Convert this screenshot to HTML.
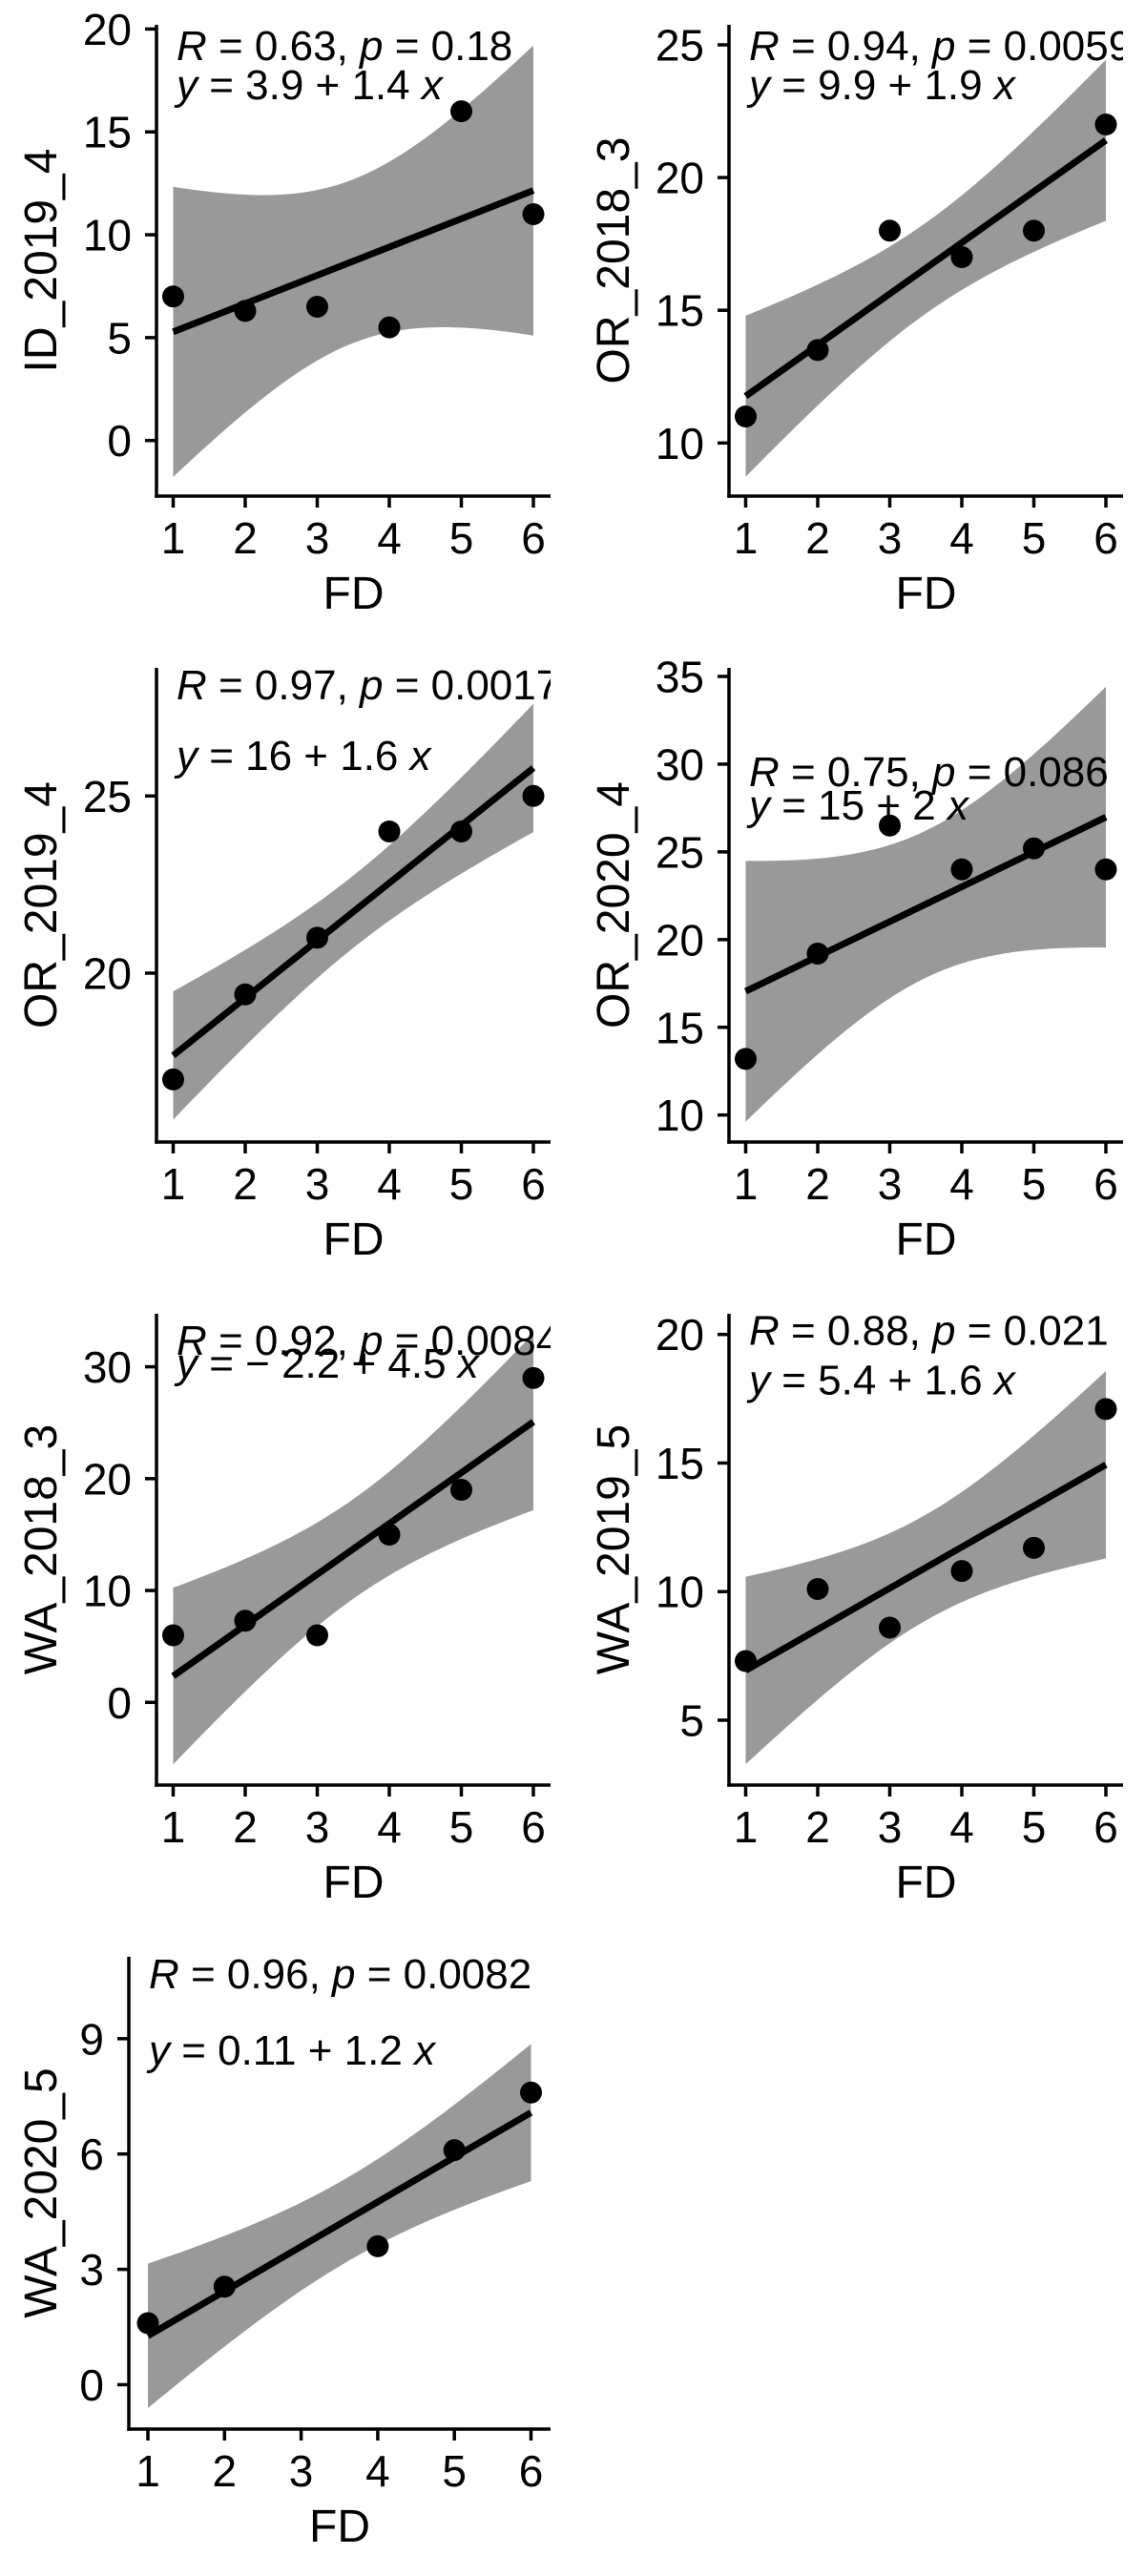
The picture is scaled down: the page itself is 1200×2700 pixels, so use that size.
<!DOCTYPE html>
<html><head><meta charset="utf-8"><title>FD regressions</title>
<style>
html,body{margin:0;padding:0;background:#fff;}
svg{display:block;font-family:"Liberation Sans",Arial,sans-serif;}
</style></head>
<body>
<svg id="chart" width="1200" height="2700" viewBox="0 0 1200 2700" xmlns="http://www.w3.org/2000/svg"></svg>
<script>
// ---- data ----
const fdSix = [1, 2, 3, 4, 5, 6];
const fdFive = [1, 2, 4, 5, 6];
const id2019_4 = [7, 6.3, 6.5, 5.5, 16, 11];
const or2018_3 = [11, 13.5, 18, 17, 18, 22];
const or2019_4 = [17, 19.4, 21, 24, 24, 25];
const or2020_4 = [13.2, 19.2, 26.5, 24, 25.2, 24];
const wa2018_3 = [6, 7.3, 6, 15, 19, 29];
const wa2019_5 = [7.3, 10.1, 8.6, 10.8, 11.7, 17.1];
const wa2020_5 = [1.6, 2.55, 3.6, 6.1, 7.6];
const panelTitles = ["ID_2019_4","OR_2018_3","OR_2019_4","OR_2020_4","WA_2018_3","WA_2019_5","WA_2020_5"];
const rLabels = ["0.63|0.18","0.94|0.0059","0.97|0.0017","0.75|0.086","0.92|0.0084","0.88|0.021","0.96|0.0082"];
const eqLabels = ["3.9 + 1.4","9.9 + 1.9","16 + 1.6","15 + 2","\u2212 2.2 + 4.5","5.4 + 1.6","0.11 + 1.2"];
const yTicks1 = [0, 5, 10, 15, 20];
const yTicks2 = [10, 15, 20, 25];
const yTicks3 = [20, 25];
const yTicks4 = [10, 15, 20, 25, 30, 35];
const yTicks5 = [0, 10, 20, 30];
const yTicks6 = [5, 10, 15, 20];
const yTicks7 = [0, 3, 6, 9];
const xTicks = [1, 2, 3, 4, 5, 6];

// ---- layout (pixels) ----
const layout = [
 {xs:fdSix, ys:id2019_4, ticks:yTicks1, ox:0,   ax:164, x1:181.5, x6:559, axY:520,    top:26,   v1:0,  p1:461.7, v2:20, p2:30.4,  rY:63,   eY:104},
 {xs:fdSix, ys:or2018_3, ticks:yTicks2, ox:600, ax:164, x1:181.5, x6:559, axY:520,    top:26,   v1:10, p1:464.3, v2:25, p2:47,    rY:63,   eY:104},
 {xs:fdSix, ys:or2019_4, ticks:yTicks3, ox:0,   ax:164, x1:181.5, x6:559, axY:1197,   top:700,  v1:20, p1:1020,  v2:25, p2:834.3, rY:733,  eY:807},
 {xs:fdSix, ys:or2020_4, ticks:yTicks4, ox:600, ax:164, x1:181.5, x6:559, axY:1197,   top:700,  v1:10, p1:1168.7,v2:35, p2:709,   rY:824,  eY:859},
 {xs:fdSix, ys:wa2018_3, ticks:yTicks5, ox:0,   ax:164, x1:181.5, x6:559, axY:1871,   top:1377, v1:0,  p1:1784.3,v2:30, p2:1432.6,rY:1420, eY:1444},
 {xs:fdSix, ys:wa2019_5, ticks:yTicks6, ox:600, ax:164, x1:181.5, x6:559, axY:1871,   top:1377, v1:5,  p1:1803,  v2:20, p2:1398.7,rY:1409.6,eY:1461.7},
 {xs:fdFive,ys:wa2020_5, ticks:yTicks7, ox:0,   ax:135, x1:155,   x6:556.5,axY:2546,  top:2051, v1:0,  p1:2499.5,v2:9,  p2:2136.8,rY:2084, eY:2164}
];
const tTable = {3:3.182, 4:2.776};
const NS = "http://www.w3.org/2000/svg";
const svg = document.getElementById("chart");

function mk(tag, attrs, parent) {
  const e = document.createElementNS(NS, tag);
  for (const k in attrs) e.setAttribute(k, attrs[k]);
  (parent || svg).appendChild(e);
  return e;
}

layout.forEach((L, i) => {
  const g = mk("g", {});
  
  
  const right = L.ox + 577;
  const xS = v => L.ox + L.x1 + (v - 1) * (L.x6 - L.x1) / 5;
  const yS = v => L.p1 + (v - L.v1) * (L.p2 - L.p1) / (L.v2 - L.v1);

  const clip = mk("clipPath", {id: "clip" + i}, g);
  mk("rect", {x: L.ox + L.ax, y: 0, width: right - (L.ox + L.ax), height: 2700}, clip);

  const n = L.xs.length;
  const mx = L.xs.reduce((a, b) => a + b, 0) / n;
  const my = L.ys.reduce((a, b) => a + b, 0) / n;
  let sxx = 0, sxy = 0;
  L.xs.forEach((x, k) => { sxx += (x - mx) * (x - mx); sxy += (x - mx) * (L.ys[k] - my); });
  const b = sxy / sxx, a = my - b * mx;
  let sse = 0;
  L.xs.forEach((x, k) => { const r = L.ys[k] - (a + b * x); sse += r * r; });
  const s = Math.sqrt(sse / (n - 2));
  const t = tTable[n - 2];
  const xmin = Math.min(...L.xs), xmax = Math.max(...L.xs);
  const up = [], lo = [];
  for (let k = 0; k <= 80; k++) {
    const x = xmin + (xmax - xmin) * k / 80;
    const f = a + b * x;
    const h = t * s * Math.sqrt(1 / n + (x - mx) * (x - mx) / sxx);
    up.push(xS(x).toFixed(2) + "," + yS(f + h).toFixed(2));
    lo.unshift(xS(x).toFixed(2) + "," + yS(f - h).toFixed(2));
  }
  const band = mk("polygon", {points: up.concat(lo).join(" "), fill: "#999999", "clip-path": "url(#clip" + i + ")"}, g);
  
  

  const line = mk("line", {x1: xS(xmin), y1: yS(a + b * xmin), x2: xS(xmax), y2: yS(a + b * xmax), stroke: "#000", "stroke-width": 7}, g);
  
  

  L.xs.forEach((x, k) => {
    const c = mk("circle", {cx: xS(x), cy: yS(L.ys[k]), r: 11.5, fill: "#000"}, g);
    
    
  });

  const yAx = mk("line", {x1: L.ox + L.ax, y1: L.top, x2: L.ox + L.ax, y2: L.axY + 1.75, stroke: "#000", "stroke-width": 3.5}, g);
  
  
  const xAx = mk("line", {x1: L.ox + L.ax - 1.75, y1: L.axY, x2: right, y2: L.axY, stroke: "#000", "stroke-width": 3.5}, g);
  
  

  L.ticks.forEach(v => {
    const py = yS(v);
    mk("line", {x1: L.ox + L.ax - 12, y1: py, x2: L.ox + L.ax, y2: py, stroke: "#000", "stroke-width": 3.5}, g);
    const tl = mk("text", {x: L.ox + L.ax - 26, y: py + 16.5, "font-size": 46, "text-anchor": "end"}, g);
    tl.textContent = v;
    
    
  });
  xTicks.forEach(v => {
    const px = xS(v);
    mk("line", {x1: px, y1: L.axY, x2: px, y2: L.axY + 12, stroke: "#000", "stroke-width": 3.5}, g);
    const tl = mk("text", {x: px, y: L.axY + 60, "font-size": 46, "text-anchor": "middle"}, g);
    tl.textContent = v;
    
    
  });

  const xt = mk("text", {x: (L.ox + L.ax + right) / 2, y: L.axY + 118, "font-size": 48, "text-anchor": "middle"}, g);
  xt.textContent = "FD";
  
  

  const cy = (L.top + L.axY) / 2;
  const yt = mk("text", {x: L.ox + 59, y: cy, "font-size": 48, "text-anchor": "middle", transform: "rotate(-90 " + (L.ox + 59) + " " + cy + ")"}, g);
  yt.textContent = panelTitles[i];
  
  

  const ann = mk("g", {"clip-path": "url(#clip" + i + ")"}, g);
  const tx = L.ox + L.ax + 21;
  const parts = rLabels[i].split("|");
  const r1 = mk("text", {x: tx, y: L.rY, "font-size": 44}, ann);
  
  
  r1.innerHTML = '<tspan font-style="italic">R</tspan> = ' + parts[0] + ', <tspan font-style="italic">p</tspan> = ' + parts[1];
  const e1 = mk("text", {x: tx, y: L.eY, "font-size": 44}, ann);
  
  
  e1.innerHTML = '<tspan font-style="italic">y</tspan> = ' + eqLabels[i] + ' <tspan font-style="italic">x</tspan>';
});
</script>
</body></html>
